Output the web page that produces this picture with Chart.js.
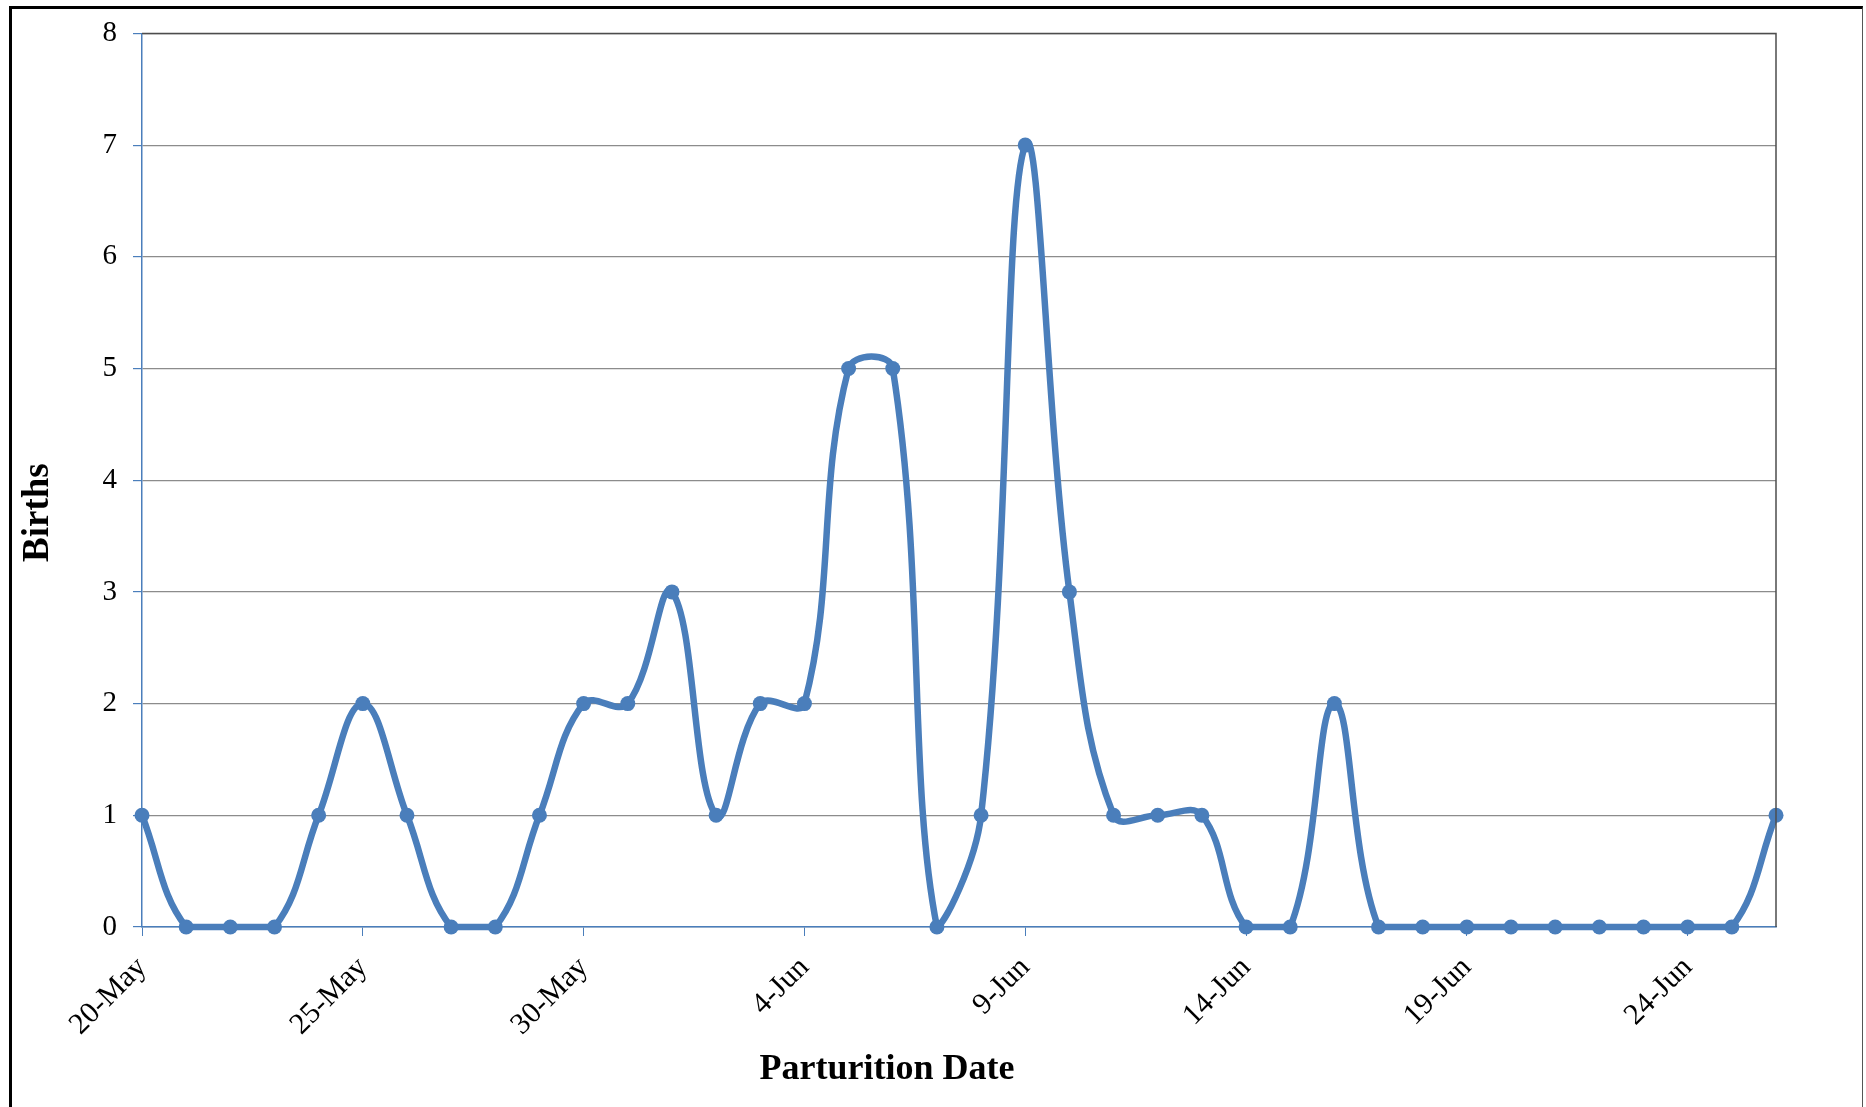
<!DOCTYPE html>
<html>
<head>
<meta charset="utf-8">
<script src="https://cdn.jsdelivr.net/npm/chart.js"></script>
<style>
  body { margin: 0; background: #fff; overflow: hidden; }
  #wrap { position: relative; width: 1866px; height: 1107px; }
  #frame { position: absolute; left: 9px; top: 6px; width: 1850px; height: 1200px;
           border-left: 3px solid #000; border-top: 3px solid #000; border-right: 1px solid #555;
           pointer-events: none; }
</style>
</head>
<body>
<div id="wrap">
  <canvas id="myChart"></canvas>
  <div id="frame"></div>
</div>
<script>
// parturition dates, 20 May - 26 Jun
var dates = ["20-May","21-May","22-May","23-May","24-May","25-May","26-May","27-May","28-May","29-May",
  "30-May","31-May","1-Jun","2-Jun","3-Jun","4-Jun","5-Jun","6-Jun","7-Jun","8-Jun",
  "9-Jun","10-Jun","11-Jun","12-Jun","13-Jun","14-Jun","15-Jun","16-Jun","17-Jun","18-Jun",
  "19-Jun","20-Jun","21-Jun","22-Jun","23-Jun","24-Jun","25-Jun","26-Jun"];
var births = [1,0,0,0,1,2,1,0,0,1,
  2,2,3,1,2,2,5,5,0,1,
  7,3,1,1,1,0,0,2,0,0,
  0,0,0,0,0,0,0,1];
var yTicks = [0,1,2,3,4,5,6,7,8];

var blue = "#4a7ebb";
var serif = "'Liberation Serif', 'Times New Roman', serif";

// dark line along the top and right of the plot area
var plotBorder = {
  id: 'plotBorder',
  afterDraw: function(chart) {
    var a = chart.chartArea, ctx = chart.ctx;
    ctx.save();
    ctx.strokeStyle = "#4d4d4d";
    ctx.lineWidth = 1.5;
    ctx.beginPath();
    ctx.moveTo(a.left, a.top);
    ctx.lineTo(a.right, a.top);
    ctx.lineTo(a.right, a.bottom);
    ctx.stroke();
    ctx.restore();
  }
};

var chart = new Chart(document.getElementById("myChart"), {
  type: 'line',
  data: {
    labels: dates,
    datasets: [{
      label: "Births",
      data: births,
      borderColor: blue,
      backgroundColor: blue,
      borderWidth: 6.5,
      pointRadius: 7.5,
      pointBorderWidth: 0,
      pointBackgroundColor: blue,
      tension: 0.4,
      fill: false,
      clip: 8
    }]
  },
  options: {
    responsive: true,
    maintainAspectRatio: false,
    animation: false,
    layout: { padding: { left: 0, top: 30, right: 90, bottom: 0 } },
    plugins: { legend: { display: false }, tooltip: { enabled: false } },
    scales: {
      x: {
        offset: false,
        afterFit: function(scale) { scale.height = 180; },
        border: { color: blue, width: 1.5 },
        grid: {
          drawOnChartArea: false,
          tickLength: 9,
          color: function(c) { return c.index % 5 === 0 ? blue : 'rgba(0,0,0,0)'; },
          tickColor: function(c) { return c.index % 5 === 0 ? blue : 'rgba(0,0,0,0)'; }
        },
        ticks: {
          autoSkip: false,
          maxRotation: 45,
          minRotation: 45,
          padding: 14,
          color: "#000",
          font: { family: serif, size: 30 },
          callback: function(val, i) { return i % 5 === 0 ? dates[i] : ''; }
        },
        title: {
          display: true,
          // trailing spaces nudge the title left like the original
          text: "Parturition Date                ",
          color: "#000",
          padding: { top: 16, bottom: 16 },
          font: { family: serif, size: 36, weight: 'bold' }
        }
      },
      y: {
        min: yTicks[0],
        max: yTicks[yTicks.length - 1],
        afterFit: function(scale) { scale.width = 142; },
        border: { color: blue, width: 1.5 },
        grid: {
          color: "#8c8c8c",
          lineWidth: 1.2,
          tickColor: blue,
          tickLength: 9
        },
        ticks: {
          stepSize: 1,
          padding: 16,
          color: "#000",
          font: { family: serif, size: 29 }
        },
        title: {
          display: true,
          text: "Births       ",
          color: "#000",
          padding: { top: 16, bottom: 16 },
          font: { family: serif, size: 37, weight: 'bold' }
        }
      }
    }
  },
  plugins: [plotBorder]
});
</script>
</body>
</html>
